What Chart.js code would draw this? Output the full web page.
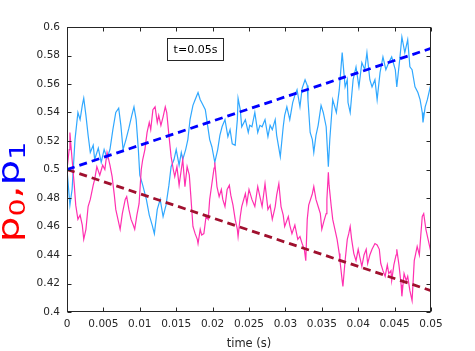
<!DOCTYPE html>
<html>
<head>
<meta charset="utf-8">
<script src="https://cdn.jsdelivr.net/npm/chart.js@4"></script>
<style>
html, body { margin:0; padding:0; background:#fff; }
</style>
</head>
<body>
<canvas id="chart" width="475" height="351"></canvas>
<script>
// p1 (light blue)
const blueT = [0,0.0004,0.0007,0.0011,0.0015,0.0018,0.0021,0.0023,0.0026,0.0029,0.0032,0.0036,0.0038,0.0043,0.0047,0.0051,0.0055,0.0059,0.0063,0.0067,0.0071,0.0074,0.0077,0.0081,0.0085,0.0089,0.0092,0.0095,0.0098,0.0100,0.0104,0.0109,0.0113,0.0117,0.0120,0.0124,0.0128,0.0132,0.0136,0.0140,0.0143,0.0147,0.0150,0.0154,0.0157,0.0159,0.0163,0.0166,0.0169,0.0173,0.0176,0.0180,0.0183,0.0185,0.0190,0.0194,0.0196,0.0199,0.0203,0.0207,0.0210,0.0213,0.0217,0.0221,0.0224,0.0227,0.0231,0.0234,0.0235,0.0238,0.0240,0.0245,0.0249,0.0251,0.0254,0.0258,0.0262,0.0265,0.0268,0.0272,0.0276,0.0279,0.0282,0.0286,0.0288,0.0293,0.0297,0.0299,0.0302,0.0306,0.0310,0.0313,0.0316,0.0320,0.0323,0.0327,0.0330,0.0331,0.0334,0.0337,0.0339,0.0342,0.0345,0.0349,0.0352,0.0356,0.0359,0.0361,0.0365,0.0370,0.0374,0.0378,0.0382,0.0385,0.0386,0.0389,0.0393,0.0397,0.0401,0.0405,0.0409,0.0412,0.0416,0.0419,0.0423,0.0426,0.0430,0.0434,0.0438,0.0442,0.0446,0.0451,0.0453,0.0457,0.0460,0.0464,0.0468,0.0471,0.0474,0.0478,0.0482,0.0485,0.0488,0.0489,0.0492,0.0495,0.0499,0.0500];
const blueV = [0.500,0.475,0.486,0.521,0.540,0.535,0.545,0.550,0.538,0.524,0.512,0.517,0.507,0.515,0.505,0.514,0.508,0.514,0.528,0.540,0.543,0.531,0.514,0.521,0.529,0.538,0.544,0.535,0.514,0.496,0.489,0.479,0.468,0.461,0.455,0.472,0.479,0.467,0.475,0.489,0.502,0.507,0.514,0.503,0.512,0.507,0.514,0.521,0.535,0.545,0.549,0.554,0.549,0.547,0.542,0.528,0.521,0.516,0.505,0.514,0.524,0.530,0.535,0.523,0.528,0.518,0.517,0.535,0.550,0.542,0.530,0.535,0.526,0.531,0.530,0.540,0.526,0.531,0.530,0.535,0.523,0.531,0.528,0.535,0.524,0.509,0.530,0.538,0.544,0.535,0.547,0.552,0.556,0.544,0.557,0.563,0.559,0.549,0.526,0.521,0.512,0.524,0.531,0.545,0.540,0.530,0.502,0.521,0.549,0.540,0.556,0.582,0.558,0.563,0.547,0.540,0.563,0.572,0.558,0.575,0.570,0.582,0.563,0.558,0.563,0.549,0.568,0.579,0.570,0.575,0.579,0.570,0.558,0.577,0.593,0.582,0.591,0.572,0.570,0.558,0.554,0.549,0.540,0.533,0.544,0.549,0.558,0.556];

// p0 (magenta)
const pinkT = [0,0.0003,0.0004,0.0007,0.0010,0.0012,0.0015,0.0018,0.0021,0.0023,0.0026,0.0029,0.0032,0.0036,0.0038,0.0041,0.0045,0.0049,0.0052,0.0055,0.0059,0.0062,0.0065,0.0067,0.0070,0.0073,0.0076,0.0080,0.0082,0.0085,0.0088,0.0091,0.0093,0.0096,0.0099,0.0102,0.0104,0.0107,0.0110,0.0113,0.0115,0.0118,0.0121,0.0124,0.0126,0.0129,0.0132,0.0135,0.0137,0.0140,0.0143,0.0146,0.0148,0.0151,0.0154,0.0157,0.0159,0.0162,0.0165,0.0168,0.0170,0.0173,0.0176,0.0179,0.0180,0.0183,0.0185,0.0188,0.0191,0.0194,0.0196,0.0199,0.0202,0.0203,0.0206,0.0209,0.0212,0.0214,0.0217,0.0220,0.0223,0.0225,0.0228,0.0231,0.0234,0.0235,0.0238,0.0240,0.0245,0.0247,0.0250,0.0254,0.0258,0.0262,0.0265,0.0268,0.0272,0.0276,0.0279,0.0282,0.0286,0.0288,0.0291,0.0294,0.0297,0.0299,0.0304,0.0306,0.0309,0.0313,0.0317,0.0320,0.0323,0.0326,0.0328,0.0330,0.0332,0.0337,0.0339,0.0342,0.0345,0.0348,0.0350,0.0353,0.0356,0.0357,0.0359,0.0360,0.0363,0.0365,0.0368,0.0371,0.0374,0.0375,0.0378,0.0379,0.0382,0.0385,0.0387,0.0389,0.0391,0.0394,0.0397,0.0400,0.0402,0.0405,0.0408,0.0411,0.0413,0.0416,0.0419,0.0423,0.0426,0.0429,0.0431,0.0434,0.0437,0.0440,0.0442,0.0445,0.0446,0.0449,0.0452,0.0453,0.0456,0.0459,0.0460,0.0463,0.0466,0.0468,0.0471,0.0474,0.0477,0.0479,0.0481,0.0484,0.0486,0.0488,0.0490,0.0493,0.0496,0.0499,0.0500];
const pinkV = [0.500,0.514,0.526,0.507,0.489,0.475,0.465,0.468,0.461,0.451,0.458,0.474,0.479,0.489,0.493,0.502,0.496,0.503,0.500,0.512,0.503,0.495,0.482,0.472,0.465,0.458,0.469,0.479,0.481,0.472,0.465,0.461,0.458,0.468,0.476,0.500,0.507,0.514,0.526,0.533,0.528,0.542,0.544,0.533,0.538,0.531,0.537,0.544,0.540,0.524,0.509,0.500,0.495,0.502,0.489,0.500,0.507,0.488,0.502,0.496,0.482,0.460,0.455,0.451,0.448,0.458,0.454,0.455,0.467,0.465,0.479,0.490,0.501,0.505,0.488,0.481,0.486,0.479,0.474,0.486,0.489,0.482,0.475,0.465,0.458,0.453,0.467,0.474,0.483,0.476,0.486,0.479,0.474,0.488,0.481,0.474,0.490,0.472,0.475,0.465,0.474,0.482,0.490,0.474,0.468,0.460,0.467,0.461,0.455,0.461,0.451,0.453,0.448,0.444,0.436,0.465,0.475,0.483,0.488,0.479,0.474,0.469,0.458,0.464,0.469,0.479,0.498,0.489,0.474,0.465,0.458,0.451,0.441,0.436,0.422,0.418,0.436,0.451,0.455,0.460,0.451,0.441,0.436,0.444,0.439,0.432,0.440,0.444,0.434,0.440,0.444,0.448,0.447,0.444,0.434,0.429,0.425,0.433,0.427,0.429,0.422,0.433,0.440,0.444,0.433,0.419,0.411,0.427,0.422,0.425,0.415,0.408,0.436,0.441,0.446,0.440,0.454,0.467,0.469,0.458,0.451,0.444,0.447];

// dashed trend lines
const trendT = [0, 0.05];
const trendUp = [0.5, 0.585];
const trendDown = [0.5, 0.415];

const xTicks = [0,0.005,0.01,0.015,0.02,0.025,0.03,0.035,0.04,0.045,0.05];
const xTickLabels = ['0','0.005','0.01','0.015','0.02','0.025','0.03','0.035','0.04','0.045','0.05'];
const yTicks = [0.4,0.42,0.44,0.46,0.48,0.5,0.52,0.54,0.56,0.58,0.6];
const yTickLabels = ['0.4','0.42','0.44','0.46','0.48','0.5','0.52','0.54','0.56','0.58','0.6'];

function pts(t, v){
	return t.map((x, i) => ({x: x, y: v[i]}));
}

const axisColor = '#262626';
const tickFont = {family: 'DejaVu Sans', size: 10.5};

let frame = {
	id: 'frame',
	afterDraw: function(chart){
		const ctx = chart.ctx;
		const a = chart.chartArea;
		const x = chart.scales.x, y = chart.scales.y;
		const L = Math.round(a.left)+0.5, R = Math.round(a.right)-0.5;
		const T = Math.round(a.top)+0.5, B = Math.round(a.bottom)-0.5;
		ctx.save();
		ctx.strokeStyle = axisColor;
		ctx.lineWidth = 1;
		ctx.strokeRect(L, T, R-L, B-T);
		ctx.beginPath();
		xTicks.forEach((v)=>{
			let p = Math.round(x.getPixelForValue(v))+0.5;
			ctx.moveTo(p, B); ctx.lineTo(p, B-4);
			ctx.moveTo(p, T); ctx.lineTo(p, T+4);
		})
		yTicks.forEach((v)=>{
			let p = Math.round(y.getPixelForValue(v))+0.5;
			ctx.moveTo(L, p); ctx.lineTo(L+4, p);
			ctx.moveTo(R, p); ctx.lineTo(R-4, p);
		})
		ctx.stroke();

		// annotation box
		ctx.fillStyle = '#fff';
		ctx.fillRect(167.5, 38.5, 56, 22);
		ctx.strokeRect(167.5, 38.5, 56, 22);
		ctx.fillStyle = '#000';
		ctx.font = '11px "DejaVu Sans"';
		ctx.textAlign = 'center';
		ctx.textBaseline = 'middle';
		ctx.fillText('t=0.05s', 195.5, 50);

		// y label p0,p1 with subscripts, a little wider than the plain font
		ctx.translate(19, 192);
		ctx.rotate(-Math.PI/2);
		ctx.scale(1.35, 1);
		ctx.textAlign = 'left';
		ctx.textBaseline = 'alphabetic';
		const parts = [
			['p', '#ff0000', 30, 0],
			['0', '#ff0000', 21, 6],
			[',', '#ff0000', 30, 0],
			['p', '#0000ff', 30, 0],
			['1', '#0000ff', 21, 6]
		];
		let w = 0;
		parts.forEach((p)=>{ ctx.font = p[2]+'px "DejaVu Sans"'; w += ctx.measureText(p[0]).width; })
		let cx = -w/2;
		parts.forEach((p)=>{
			ctx.font = p[2]+'px "DejaVu Sans"';
			ctx.fillStyle = p[1];
			ctx.fillText(p[0], cx, p[3]);
			cx += ctx.measureText(p[0]).width;
		})
		ctx.restore();
	}
}

window.onload = () => {
	new Chart('chart', {
		type: 'line',
		data: {
			datasets: [
				{ data: pts(trendT, trendUp), borderColor: '#0000ff', borderWidth: 2.8, borderDash: [8,5], pointRadius: 0, order: 0 },
				{ data: pts(trendT, trendDown), borderColor: '#a0102e', borderWidth: 2.8, borderDash: [8,5], pointRadius: 0, order: 0 },
				{ data: pts(pinkT, pinkV), borderColor: '#ff30b0', borderWidth: 1.2, pointRadius: 0, order: 1 },
				{ data: pts(blueT, blueV), borderColor: '#30a8ff', borderWidth: 1.2, pointRadius: 0, order: 2 }
			]
		},
		options: {
			responsive: false,
			animation: false,
			devicePixelRatio: 1,
			layout: { padding: { left: 0, top: 27, right: 44, bottom: 0 } },
			plugins: { legend: { display: false }, tooltip: { enabled: false } },
			elements: { line: { tension: 0 } },
			scales: {
				x: {
					type: 'linear', min: 0, max: 0.05,
					grid: { display: false, drawTicks: false },
					border: { display: false },
					afterBuildTicks: (s) => { s.ticks = xTicks.map(v => ({value: v})) },
					ticks: { callback: (v, i) => xTickLabels[i], color: axisColor, font: tickFont, padding: 6, maxRotation: 0, autoSkip: false },
					title: { display: true, text: 'time (s)', color: axisColor, font: {family: 'DejaVu Sans', size: 11.5}, padding: {top: 2, bottom: 0} },
					afterFit: (s) => { s.height = 39 }
				},
				y: {
					type: 'linear', min: 0.4, max: 0.6,
					grid: { display: false, drawTicks: false },
					border: { display: false },
					afterBuildTicks: (s) => { s.ticks = yTicks.map(v => ({value: v})) },
					ticks: { callback: (v, i) => yTickLabels[i], color: axisColor, font: tickFont, padding: 7, autoSkip: false },
					afterFit: (s) => { s.width = 67 }
				}
			}
		},
		plugins: [frame]
	})
};
</script>
</body>
</html>
